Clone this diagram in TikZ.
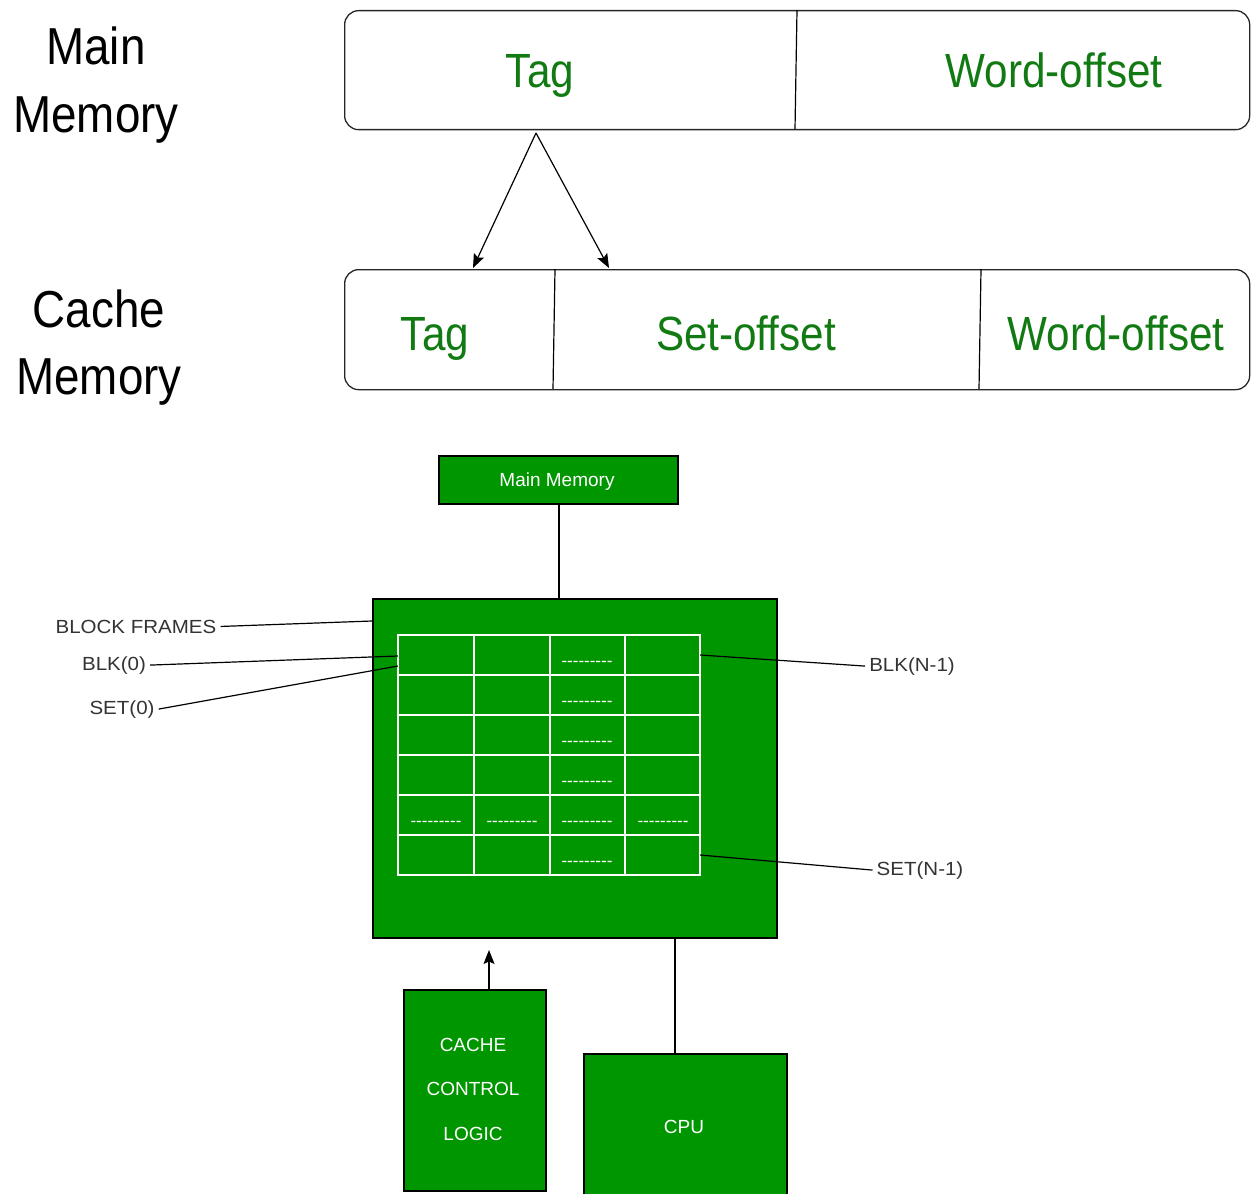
\documentclass[tikz,border=0pt]{standalone}
\usepackage{fontspec}
\setmainfont{Liberation Sans}
\newfontfamily\narrowfont{Liberation Sans}[FakeStretch=0.88]
\newfontfamily\widefont{Liberation Sans}[FakeStretch=1.08]
\newfontfamily\dashfont{Liberation Sans}[Ligatures=TeXOff]
\usetikzlibrary{arrows.meta}
\definecolor{boxgreen}{RGB}{0,150,0}
\definecolor{textgreen}{RGB}{18,122,18}

\begin{document}
\begin{tikzpicture}[x=1pt,y=-1pt,
  field/.style={draw=black!85, line width=1.3pt, rounded corners=14pt,
    inner sep=0pt, anchor=north west},
  fieldtext/.style={font=\narrowfont\fontsize{48}{56}\selectfont, text=textgreen,
    anchor=base, inner sep=0pt},
  sidetext/.style={font=\narrowfont\fontsize{52}{60}\selectfont, text=black,
    anchor=base, inner sep=0pt},
  gbox/.style={draw=black, fill=boxgreen, line width=1.6pt, inner sep=0pt,
    anchor=north west},
  boxtext/.style={font=\fontsize{19}{22}\selectfont, text=white, anchor=base,
    inner sep=0pt},
  tagtext/.style={font=\widefont\fontsize{19}{22}\selectfont, text=black!80,
    anchor=base, inner sep=4pt},
  dashtext/.style={font=\dashfont\fontsize{17}{20}\selectfont, text=white,
    anchor=base, inner sep=0pt},
  gridline/.style={draw=white, line width=1.8pt},
  leader/.style={draw=black, line width=1.2pt},
  arrow/.style={draw=black, line width=1.2pt,
    -{Stealth[length=14pt,width=11pt,inset=2.5pt]}}]

\useasboundingbox[fill=white] (0,0) rectangle (1257,1193);

% ---------- address formats ----------
\node[field, minimum width=905pt, minimum height=119pt] (mmaddr) at (344,10) {};
\draw[leader] (797,10) -- (795,129);
\node[fieldtext] (mmtag) at (540,88) {Tag};
\node[fieldtext] (mmword) at (1054,88) {Word-offset};

\node[field, minimum width=905pt, minimum height=120pt] (caddr) at (344,269) {};
\draw[leader] (555,269) -- (553,389);
\draw[leader] (981,269) -- (979,389);
\node[fieldtext] (ctag) at (435,350) {Tag};
\node[fieldtext] (cset) at (746,350) {Set-offset};
\node[fieldtext] (cword) at (1116,350) {Word-offset};

\node[sidetext] (mmlabel1) at (96,65) {Main};
\node[sidetext] (mmlabel2) at (96,133) {Memory};
\node[sidetext] (cmlabel1) at (99,327) {Cache};
\node[sidetext] (cmlabel2) at (99,394) {Memory};

% tag field splits into cache tag and set fields
\coordinate (split) at (536,133);
\coordinate (tagend) at (473,268);
\coordinate (setend) at (609,268);
\draw[arrow] (split) -- (tagend);
\draw[arrow] (split) -- (setend);

% ---------- cache organisation ----------
\node[gbox, minimum width=239pt, minimum height=48pt] (mainmem) at (438,455) {};
\node[boxtext] at (557,486) {Main Memory};

\node[gbox, minimum width=404pt, minimum height=339pt] (cache) at (372,598) {};
\coordinate (memjoin) at (559,503);
\draw[leader] (memjoin) -- (memjoin |- cache.north);

% block frames grid
\draw[gridline] (398,635) rectangle (700,875);
\foreach \gx in {474,550,625} \draw[gridline] (\gx,635) -- (\gx,875);
\foreach \gy in {675,715,755,795,835} \draw[gridline] (398,\gy) -- (700,\gy);
\foreach \gy in {661,701,741,781,821,861}
  \node[dashtext] at (587,\gy+5.5) {---------};
\foreach \gx in {436,512,663}
  \node[dashtext] at (\gx,826.5) {---------};

% labels and leaders
\node[tagtext] (lblframes) at (136,633) {BLOCK FRAMES};
\node[tagtext] (lblblk0) at (114,670) {BLK(0)};
\node[tagtext] (lblset0) at (122,714) {SET(0)};
\node[tagtext] (lblblkn) at (912,671) {BLK(N-1)};
\node[tagtext] (lblsetn) at (920,875) {SET(N-1)};

\coordinate (frameend) at (372,621);
\coordinate (blk0end) at (398,656);
\coordinate (set0end) at (398,666);
\coordinate (blknend) at (700,655);
\coordinate (setnend) at (700,855);
\draw[leader] (lblframes.east) -- (frameend);
\draw[leader] (lblblk0.east) -- (blk0end);
\draw[leader] (lblset0.east) -- (set0end);
\draw[leader] (lblblkn.west) -- (blknend);
\draw[leader] (lblsetn.west) -- (setnend);

% control logic and processor
\node[gbox, minimum width=142pt, minimum height=201pt] (ccl) at (403,989) {};
\node[boxtext] at (473,1051) {CACHE};
\node[boxtext] at (473,1095) {CONTROL};
\node[boxtext] at (473,1140) {LOGIC};

\node[gbox, minimum width=203pt, minimum height=150pt] (cpu) at (583,1053) {};
\node[boxtext] at (684,1133) {CPU};

\coordinate (cclup) at (489,950);
\draw[arrow] (ccl.north -| cclup) -- (cclup);
\coordinate (cpujoin) at (675,937);
\draw[leader] (cpujoin) -- (cpujoin |- cpu.north);
\end{tikzpicture}
\end{document}
